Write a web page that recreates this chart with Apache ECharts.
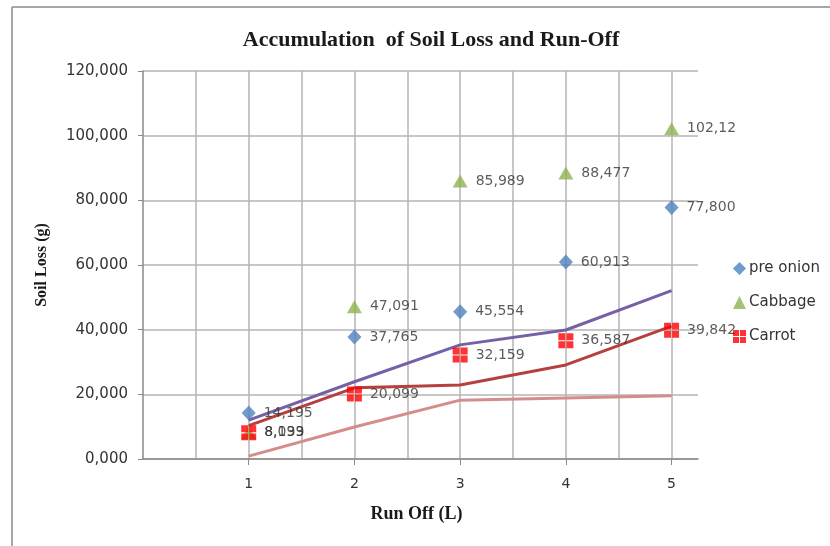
<!DOCTYPE html>
<html>
<head>
<meta charset="utf-8">
<script src="https://cdn.jsdelivr.net/npm/echarts@6/dist/echarts.min.js"></script>
<style>html,body{margin:0;padding:0;background:#fff;}#c{width:830px;height:546px;}</style>
</head>
<body>
<div id="c"></div>
<script>
// Data
var runOff = [1, 2, 3, 4, 5];
var preOnion = [14.195, 37.765, 45.554, 60.913, 77.800];
var cabbage = [8.133, 47.091, 85.989, 88.477, 102.12];
var carrot = [8.099, 20.099, 32.159, 36.587, 39.842];
var linePurple = [12.0, 23.9, 35.3, 39.9, 52.1];
var lineRed = [10.3, 22.0, 22.9, 29.1, 41.1];
var linePink = [0.9, 9.9, 18.2, 18.9, 19.6];
var xTicks = [1, 2, 3, 4, 5];
var xGridLines = [0.5, 1, 1.5, 2, 2.5, 3, 3.5, 4, 4.5, 5];

function pairs(xs, ys) { return xs.map(function (x, i) { return [x, ys[i]]; }); }
function fmt(v) { return v.toFixed(3).replace('.', ',').slice(0, 6); }

var chart = echarts.init(document.getElementById('c'));
var labelStyle = { show: true, position: 'right', distance: 8, fontFamily: 'DejaVu Sans', fontSize: 14, color: '#333',
  formatter: function (p) { return fmt(p.value[1]); } };
var carrotSymbol = 'path://M0,0h6v6h-6z M7,0h6v6h-6z M0,7h6v6h-6z M7,7h6v6h-6z';

function lineSeries(data, color) {
  return { type: 'line', data: pairs(runOff, data), showSymbol: false, symbol: 'none', silent: true,
    lineStyle: { color: color, width: 3 }, z: 1, animation: false };
}

chart.setOption({
  animation: false,
  backgroundColor: '#fff',
  title: { text: 'Accumulation  of Soil Loss and Run-Off', left: 426, top: 24, textAlign: 'center',
    textStyle: { fontFamily: 'Liberation Serif', fontWeight: 'bold', fontSize: 22, color: '#1a1a1a' } },
  grid: { left: 143, right: 132, top: 71, bottom: 87 },
  legend: { orient: 'vertical', left: 728, top: 256, itemGap: 19, itemWidth: 13, itemHeight: 13,
    data: ['pre onion', 'Cabbage', 'Carrot'],
    textStyle: { fontFamily: 'DejaVu Sans', fontSize: 15, color: '#333', padding: [0, 0, 0, -2] } },
  xAxis: [{
    type: 'value', min: 0, max: 5.25,
    name: 'Run Off (L)', nameLocation: 'middle', nameGap: 46,
    nameTextStyle: { fontFamily: 'Liberation Serif', fontWeight: 'bold', fontSize: 18, color: '#1a1a1a', padding: [0, 0, 0, -8] },
    axisLine: { show: true, lineStyle: { color: '#8a8a8a', width: 1.5 } },
    axisTick: { show: true, length: 6, customValues: xTicks, lineStyle: { color: '#8a8a8a' } },
    axisLabel: { fontFamily: 'DejaVu Sans', fontSize: 14, color: '#333', margin: 18, customValues: xTicks },
    splitLine: { show: false }
  }, {
    type: 'value', min: 0, max: 5.25, position: 'bottom',
    axisLine: { show: false }, axisLabel: { show: false },
    axisTick: { show: false, customValues: xGridLines },
    splitLine: { show: true, lineStyle: { color: '#b4b4b4', width: 1.5 } }
  }],
  yAxis: {
    type: 'value', min: 0, max: 120, interval: 20,
    name: 'Soil Loss (g)', nameLocation: 'middle', nameGap: 93, nameRotate: 90,
    nameTextStyle: { fontFamily: 'Liberation Serif', fontWeight: 'bold', fontSize: 16, color: '#1a1a1a' },
    axisLine: { show: true, lineStyle: { color: '#8a8a8a', width: 1.5 } },
    axisTick: { show: true, length: 5, lineStyle: { color: '#8a8a8a' } },
    axisLabel: { fontFamily: 'DejaVu Sans', fontSize: 15, color: '#333', margin: 15,
      formatter: function (v) { return v.toFixed(3).replace('.', ','); } },
    splitLine: { show: true, lineStyle: { color: '#b4b4b4', width: 1.5 } }
  },
  graphic: [
    { type: 'line', shape: { x1: 12, y1: 7, x2: 830, y2: 7 }, style: { stroke: '#8a8a8a', lineWidth: 1.5 } },
    { type: 'line', shape: { x1: 12, y1: 7, x2: 12, y2: 546 }, style: { stroke: '#8a8a8a', lineWidth: 1.5 } }
  ],
  series: [
    lineSeries(linePink, '#d38d8c'),
    lineSeries(lineRed, '#b5403f'),
    lineSeries(linePurple, '#7660a6'),
    { name: 'pre onion', type: 'scatter', data: pairs(runOff, preOnion), symbol: 'diamond', symbolSize: [14, 15],
      itemStyle: { color: '#4f81bd' }, label: labelStyle, z: 3 },
    { name: 'Cabbage', type: 'scatter', data: pairs(runOff, cabbage), symbol: 'triangle', symbolSize: [15, 13],
      itemStyle: { color: '#8fb14f' }, label: labelStyle, z: 3 },
    { name: 'Carrot', type: 'scatter', data: pairs(runOff, carrot), symbol: carrotSymbol, symbolSize: 15,
      itemStyle: { color: '#ff0000' }, label: labelStyle, z: 4 }
  ]
});
</script>
</body>
</html>
